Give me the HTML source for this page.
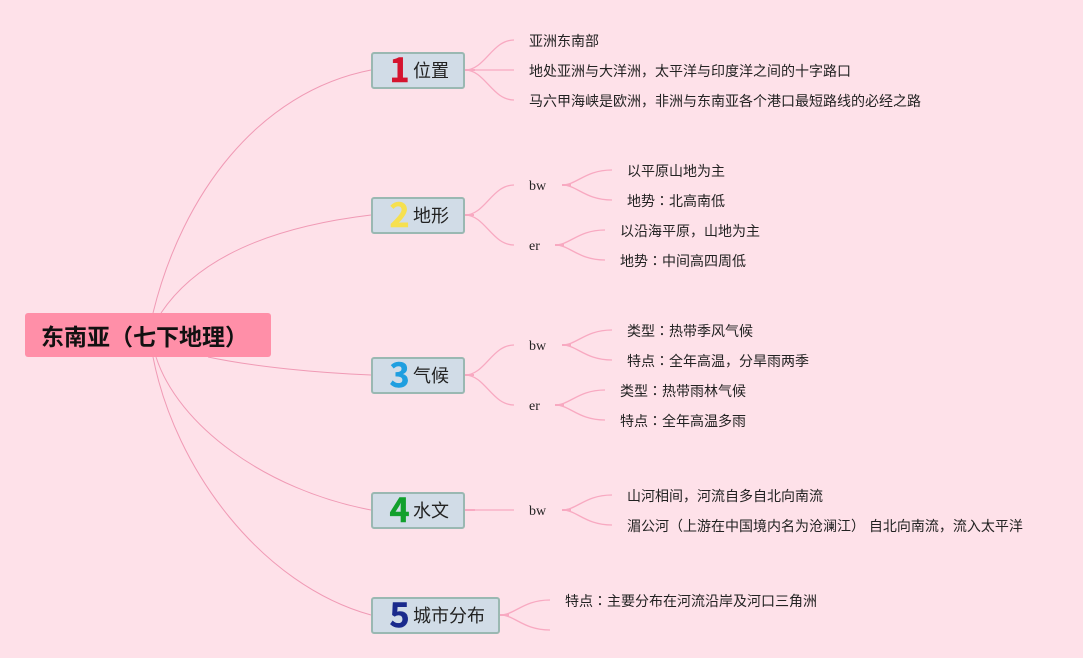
<!DOCTYPE html>
<html>
<head>
<meta charset="utf-8">
<style>
html,body{margin:0;padding:0}
body{width:1083px;height:658px;background:#fee1e9;position:relative;overflow:hidden;font-family:"Liberation Sans","Noto Sans CJK SC",sans-serif;color:#222}
svg{position:absolute;left:0;top:0}
.t{position:absolute;font-size:14px;line-height:20px;white-space:pre}
.t i{font-style:normal;font-family:"Noto Sans CJK JP",sans-serif}
.s{font-family:"Liberation Serif","Noto Serif CJK SC",serif;line-height:20px;margin-top:.5px}
.root{position:absolute;left:25px;top:312.5px;width:246px;height:44.5px;background:#ff8fa8;border-radius:3px;box-sizing:border-box;padding-left:16px;font-size:23px;line-height:49px;font-weight:bold;color:#111;white-space:pre}
.n{position:absolute;left:371px;width:94px;height:36.5px;box-sizing:border-box;background:#d1dce7;border:2px solid #9ab8b2;border-radius:3px}
.num{position:absolute;font-size:34px;line-height:36px;font-weight:bold;top:-4.5px;left:16.5px;font-family:"Noto Sans CJK SC",sans-serif;-webkit-text-stroke:.5px currentColor}
.l{position:absolute;left:40px;top:-1px;font-size:18px;line-height:37px;white-space:pre;color:#222}
</style>
</head>
<body>
<svg width="1083" height="658" fill="none" stroke="#f8a9c1" stroke-width="1.3">
<g stroke="#f09ab5" stroke-width="1">
<path d="M153,313 C182,195 258,92 371,70"/>
<path d="M161,313 C195,262 262,228 371,215"/>
<path d="M208,357 C255,367 320,373 371,375"/>
<path d="M156,357 C178,425 265,490 371,510"/>
<path d="M153,357 C175,470 262,585 371,615"/>
</g>
<path d="M465,70 C485,70 492,40 514,40"/>
<path d="M465,70 L514,70"/>
<path d="M465,70 C485,70 492,100 514,100"/>
<path d="M465,215 C485,215 492,185 514,185"/>
<path d="M465,215 C485,215 492,245 514,245"/>
<path d="M562,185 C577,185 585,170 612,170"/>
<path d="M562,185 C577,185 585,200 612,200"/>
<path d="M555,245 C570,245 578,230 605,230"/>
<path d="M555,245 C570,245 578,260 605,260"/>
<path d="M465,375 C485,375 492,345 514,345"/>
<path d="M465,375 C485,375 492,405 514,405"/>
<path d="M562,345 C577,345 585,330 612,330"/>
<path d="M562,345 C577,345 585,360 612,360"/>
<path d="M555,405 C570,405 578,390 605,390"/>
<path d="M555,405 C570,405 578,420 605,420"/>
<path d="M465,510 L514,510"/>
<path d="M562,510 C577,510 585,495 612,495"/>
<path d="M562,510 C577,510 585,525 612,525"/>
<path d="M500,615 C515,615 523,600 550,600"/>
<path d="M500,615 C515,615 523,630 550,630"/>
<g stroke-width="2">
<path d="M465,70h10M465,215h9M465,375h9M465,510h10M562,185h9M555,245h9M562,345h9M555,405h9M562,510h9M500,615h9"/>
</g>
</svg>

<div class="root">东南亚（七下地理）</div>

<div class="n" style="top:52px"><span class="num" style="color:#d5142f">1</span><span class="l">位置</span></div>
<div class="n" style="top:197px"><span class="num" style="color:#f6e04f">2</span><span class="l">地形</span></div>
<div class="n" style="top:357px"><span class="num" style="color:#1f9fe0">3</span><span class="l">气候</span></div>
<div class="n" style="top:492px"><span class="num" style="color:#12a02c">4</span><span class="l">水文</span></div>
<div class="n" style="top:597px;width:129px"><span class="num" style="color:#1a2a8c">5</span><span class="l">城市分布</span></div>

<div class="t" style="left:529px;top:31px">亚洲东南部</div>
<div class="t" style="left:529px;top:61px">地处亚洲与大洋洲，太平洋与印度洋之间的十字路口</div>
<div class="t" style="left:529px;top:91px">马六甲海峡是欧洲，非洲与东南亚各个港口最短路线的必经之路</div>

<div class="t s" style="left:529px;top:176px">bw</div>
<div class="t s" style="left:529px;top:236px">er</div>
<div class="t" style="left:627px;top:161px">以平原山地为主</div>
<div class="t" style="left:627px;top:191px">地势<i>：</i>北高南低</div>
<div class="t" style="left:620px;top:221px">以沿海平原，山地为主</div>
<div class="t" style="left:620px;top:251px">地势<i>：</i>中间高四周低</div>

<div class="t s" style="left:529px;top:336px">bw</div>
<div class="t s" style="left:529px;top:396px">er</div>
<div class="t" style="left:627px;top:321px">类型<i>：</i>热带季风气候</div>
<div class="t" style="left:627px;top:351px">特点<i>：</i>全年高温，分旱雨两季</div>
<div class="t" style="left:620px;top:381px">类型<i>：</i>热带雨林气候</div>
<div class="t" style="left:620px;top:411px">特点<i>：</i>全年高温多雨</div>

<div class="t s" style="left:529px;top:501px">bw</div>
<div class="t" style="left:627px;top:486px">山河相间，河流自多自北向南流</div>
<div class="t" style="left:627px;top:516px">湄公河（上游在中国境内名为沧澜江） 自北向南流，流入太平洋</div>

<div class="t" style="left:565px;top:591px">特点<i>：</i>主要分布在河流沿岸及河口三角洲</div>
</body>
</html>
